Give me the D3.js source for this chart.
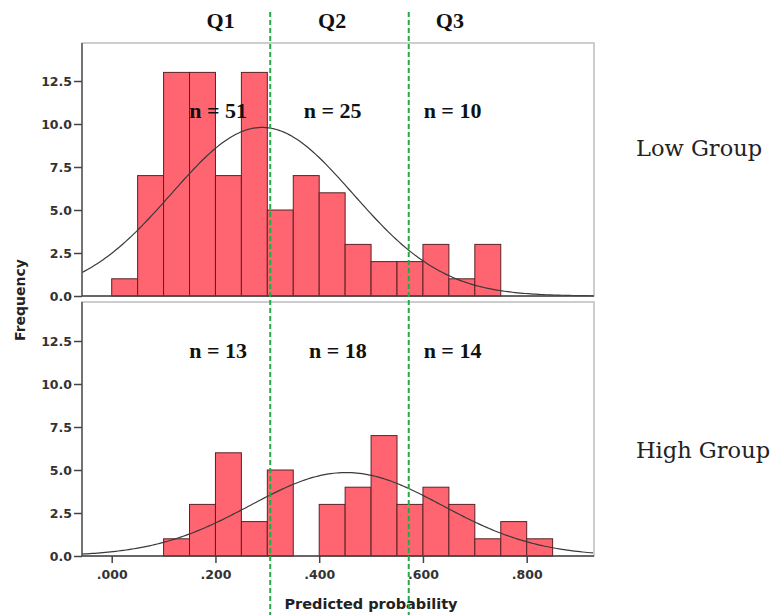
<!DOCTYPE html>
<html>
<head>
<meta charset="utf-8">
<script src="https://cdn.jsdelivr.net/npm/d3@7"></script>
<style>
  body { margin: 0; background: #fff; }
</style>
</head>
<body>
<script>
// histogram bins, width .05 starting at .000
var binStarts = [0, .05, .1, .15, .2, .25, .3, .35, .4, .45, .5, .55, .6, .65, .7, .75, .8];
var lowCounts  = [1, 7, 13, 13, 7, 13, 5, 7, 6, 3, 2, 2, 3, 1, 3, 0, 0];
var highCounts = [0, 0, 1, 3, 6, 2, 5, 0, 3, 4, 7, 3, 4, 3, 1, 2, 1];
var binWidth = .05;

// normal curve parameters (mean, sd, n) for each group
var lowFit  = { mean: .29, sd: .175, n: 86 };
var highFit = { mean: .452, sd: .185, n: 45 };

var quartileCuts = [.3056, .5726];
var quartileLabels = ["Q1", "Q2", "Q3"];
var quartileLabelX = [.21, .425, .652];
var lowN  = ["n = 51", "n = 25", "n = 10"];
var highN = ["n = 13", "n = 18", "n = 14"];
var nLabelX = [.205, .426, .657];
var highNLabelX = [.205, .436, .657];

var xTicks = [0, .2, .4, .6, .8];
var yTicks = [0, 2.5, 5, 7.5, 10, 12.5];

var W = 774, H = 615;
var left = 82, right = 594;
var sans = "DejaVu Sans, Verdana, sans-serif";
var serif = "Liberation Serif, Times New Roman, serif";

var svg = d3.select("body").append("svg")
    .attr("width", W)
    .attr("height", H);

var x = d3.scaleLinear().domain([0, .8]).range([111.7, 526.7]);

var panels = [
  { counts: lowCounts, fit: lowFit, top: 43, bottom: 296, labels: lowN, lx: nLabelX, ly: 118, side: "Low Group", sideY: 156 },
  { counts: highCounts, fit: highFit, top: 302, bottom: 556, labels: highN, lx: highNLabelX, ly: 358, side: "High Group", sideY: 458 }
];

var fmtY = d3.format(".1f");

panels.forEach(function (p, pi) {
  var y = d3.scaleLinear().domain([0, 12.5]).range([p.bottom, p.bottom - 43 * 5]);
  var g = svg.append("g");

  // frame
  g.append("rect")
    .attr("x", left).attr("y", p.top)
    .attr("width", right - left).attr("height", p.bottom - p.top)
    .attr("fill", "none").attr("stroke", "#bdbdbd").attr("stroke-width", 1.5);

  // bars
  var bins = binStarts.map(function (s, i) { return { x0: s, c: p.counts[i] }; })
    .filter(function (d) { return d.c > 0; });
  g.selectAll("rect.bar")
    .data(bins)
    .enter()
    .append("rect")
    .attr("class", "bar")
    .attr("x", function (d) { return x(d.x0); })
    .attr("y", function (d) { return y(d.c); })
    .attr("width", function (d) { return x(d.x0 + binWidth) - x(d.x0); })
    .attr("height", function (d) { return y(0) - y(d.c); })
    .style("fill", "#fe6570")
    .style("stroke", "#5a2226")
    .style("stroke-width", 1);

  // normal curve
  var f = p.fit;
  var xs = d3.range(x.invert(left), x.invert(right) + 1e-9, .005);
  var line = d3.line()
    .x(function (v) { return x(v); })
    .y(function (v) {
      var z = (v - f.mean) / f.sd;
      return y(f.n * binWidth * Math.exp(-z * z / 2) / (f.sd * Math.sqrt(2 * Math.PI)));
    });
  g.append("path")
    .datum(xs)
    .attr("d", line)
    .attr("fill", "none")
    .attr("stroke", "#3a3a3a")
    .attr("stroke-width", 1.2);

  // y axis
  var yAxis = g.append("g")
    .attr("transform", "translate(" + left + ",0)")
    .call(d3.axisLeft(y).tickValues(yTicks).tickFormat(fmtY).tickSize(8).tickSizeOuter(0));
  yAxis.select(".domain").attr("stroke", "#555").attr("stroke-width", 1.5)
    .attr("d", "M0," + p.top + "V" + p.bottom);
  yAxis.selectAll(".tick line").attr("stroke", "#444").attr("stroke-width", 1.5);
  yAxis.selectAll("text")
    .attr("font-family", sans)
    .attr("font-weight", "bold")
    .attr("font-size", "12.5px")
    .attr("fill", "#333")
    .attr("x", -10);

  // baseline
  g.append("line")
    .attr("x1", left).attr("x2", right)
    .attr("y1", p.bottom).attr("y2", p.bottom)
    .attr("stroke", "#444").attr("stroke-width", 1.5);

  // n labels
  g.selectAll("text.n")
    .data(p.labels)
    .enter()
    .append("text")
    .attr("class", "n")
    .attr("x", function (d, i) { return x(p.lx[i]); })
    .attr("y", p.ly)
    .attr("text-anchor", "middle")
    .attr("font-family", serif)
    .attr("font-weight", "bold")
    .attr("font-size", "22px")
    .attr("fill", "#111")
    .text(function (d) { return d; });

  // group label on the right
  svg.append("text")
    .attr("x", 636)
    .attr("y", p.sideY)
    .attr("font-family", "DejaVu Serif, serif")
    .attr("font-size", "22.5px")
    .attr("fill", "#222")
    .text(p.side);

  if (pi === 1) {
    var xAxis = g.append("g")
      .attr("transform", "translate(0," + p.bottom + ")")
      .call(d3.axisBottom(x).tickValues(xTicks).tickFormat(function (d) { return d3.format(".3f")(d).replace(/^0/, ""); }).tickSize(7).tickSizeOuter(0));
    xAxis.select(".domain").remove();
    xAxis.selectAll(".tick line").attr("stroke", "#444").attr("stroke-width", 1.5);
    xAxis.selectAll("text")
      .attr("font-family", sans)
      .attr("font-weight", "bold")
      .attr("font-size", "12.5px")
      .attr("fill", "#333")
      .attr("y", 14);
  }
});

// axis titles
svg.append("text")
  .attr("transform", "translate(25,300) rotate(-90)")
  .attr("text-anchor", "middle")
  .attr("font-family", sans)
  .attr("font-weight", "bold")
  .attr("font-size", "14px")
  .attr("fill", "#222")
  .text("Frequency");

svg.append("text")
  .attr("x", 371)
  .attr("y", 609)
  .attr("text-anchor", "middle")
  .attr("font-family", sans)
  .attr("font-weight", "bold")
  .attr("font-size", "14.5px")
  .attr("fill", "#222")
  .text("Predicted probability");

// quartile cut lines
svg.selectAll("line.cut")
  .data(quartileCuts)
  .enter()
  .append("line")
  .attr("class", "cut")
  .attr("x1", function (d) { return x(d); })
  .attr("x2", function (d) { return x(d); })
  .attr("y1", 12)
  .attr("y2", H)
  .attr("stroke", "#22aa44")
  .attr("stroke-width", 2)
  .attr("stroke-dasharray", "5,3");

svg.selectAll("text.q")
  .data(quartileLabels)
  .enter()
  .append("text")
  .attr("class", "q")
  .attr("x", function (d, i) { return x(quartileLabelX[i]); })
  .attr("y", 28)
  .attr("text-anchor", "middle")
  .attr("font-family", serif)
  .attr("font-weight", "bold")
  .attr("font-size", "22px")
  .attr("fill", "#111")
  .text(function (d) { return d; });
</script>
</body>
</html>
